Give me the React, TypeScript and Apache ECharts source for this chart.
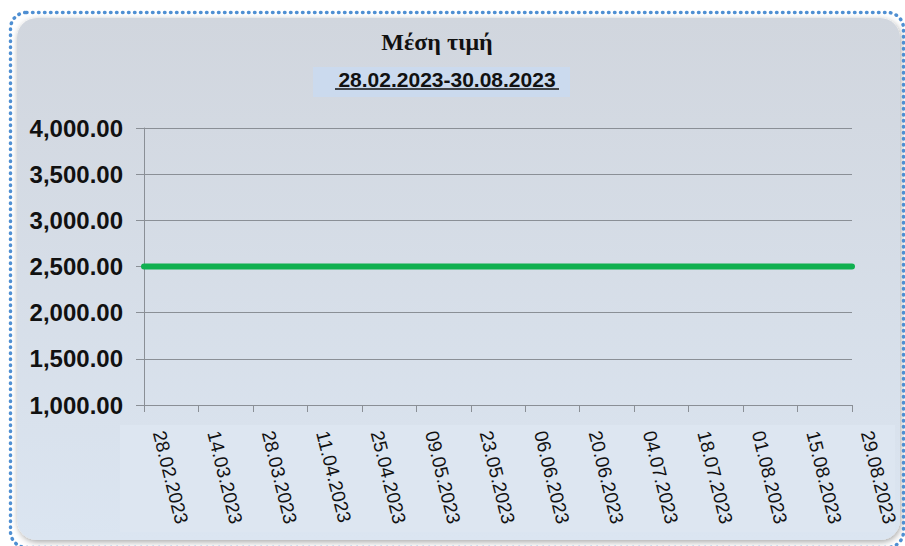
import React, { useEffect, useRef } from "react";
import * as echarts from "echarts";

const titleText = "Μέση τιμή";
const subtitleText = "28.02.2023-30.08.2023";
const dates = [
  "28.02.2023", "14.03.2023", "28.03.2023", "11.04.2023", "25.04.2023",
  "09.05.2023", "23.05.2023", "06.06.2023", "20.06.2023", "04.07.2023",
  "18.07.2023", "01.08.2023", "15.08.2023", "29.08.2023",
];
const prices = [2500, 2500, 2500, 2500, 2500, 2500, 2500, 2500, 2500, 2500, 2500, 2500, 2500, 2500];
const yMin = 1000;
const yMax = 4000;
const yStep = 500;

export default function App() {
  const ref = useRef<HTMLDivElement>(null);
  useEffect(() => {
    if (!ref.current) return;
    const chart = echarts.init(ref.current, null, { renderer: "svg" });
    chart.setOption({
      animation: false,
      backgroundColor: "#ffffff",
      graphic: [
        {
          type: "rect", z: -20, silent: true,
          shape: { x: 17, y: 18, width: 883, height: 522, r: 20 },
          style: {
            fill: new echarts.graphic.LinearGradient(0, 0, 0, 1, [
              { offset: 0, color: "#d1d6de" },
              { offset: 1, color: "#dbe5f1" },
            ]),
            shadowBlur: 6, shadowColor: "rgba(0,0,0,0.35)", shadowOffsetX: 1, shadowOffsetY: 2,
          },
        },
        {
          type: "rect", z: -19, silent: true,
          shape: { x: 120, y: 425, width: 775, height: 107 },
          style: { fill: "#dde6f1" },
        },
        {
          type: "rect", z: -18, silent: true,
          shape: { x: 10.5, y: 12.5, width: 893, height: 535, r: 16 },
          style: { fill: "none", stroke: "#4f8fd2", lineWidth: 3.5, lineDash: [0.5, 5.5], lineCap: "round" },
        },
        {
          type: "rect", z: -17, silent: true,
          shape: { x: 313, y: 67, width: 257, height: 30 },
          style: { fill: "#cbdaee" },
        },
        {
          type: "text", z: 5,
          style: {
            text: titleText, x: 437, y: 42, fill: "#111",
            font: "bold 24px 'Liberation Serif', 'Times New Roman', serif",
            textAlign: "center", textVerticalAlign: "middle", align: "center", verticalAlign: "middle",
          },
        },
        {
          type: "text", z: 5,
          style: {
            text: subtitleText, x: 447, y: 79, fill: "#111",
            font: "bold 21px 'Liberation Sans', Arial, sans-serif",
            textAlign: "center", textVerticalAlign: "middle", align: "center", verticalAlign: "middle",
          },
        },
        {
          type: "line", z: 5,
          shape: { x1: 335, y1: 89, x2: 559, y2: 89 },
          style: { stroke: "#111", lineWidth: 1.5 },
        },
      ],
      grid: { left: 144, right: 53, top: 128, bottom: 141, containLabel: false },
      xAxis: {
        type: "category",
        data: dates,
        boundaryGap: false,
        axisLine: { show: true, lineStyle: { color: "#8a8f96", width: 1 } },
        axisTick: { show: true, length: 7, lineStyle: { color: "#8a8f96" } },
        axisLabel: {
          rotate: -76,
          interval: 0,
          margin: 30,
          align: "left",
          verticalAlign: "bottom",
          padding: [0, 0, 6, 0],
          color: "#111",
          fontSize: 19,
          fontFamily: "'Liberation Sans', Arial, sans-serif",
        },
        splitLine: { show: false },
      },
      yAxis: {
        type: "value",
        min: yMin,
        max: yMax,
        interval: yStep,
        axisLine: { show: true, lineStyle: { color: "#8a8f96", width: 1 } },
        axisTick: { show: true, length: 8, lineStyle: { color: "#8a8f96" } },
        axisLabel: {
          margin: 21,
          color: "#111",
          fontSize: 24,
          fontWeight: "bold",
          fontFamily: "'Liberation Sans', Arial, sans-serif",
          formatter: (v: number) =>
            v.toLocaleString("en-US", { minimumFractionDigits: 2, maximumFractionDigits: 2 }),
        },
        splitLine: { show: true, lineStyle: { color: "#8a8f96", width: 1 } },
      },
      series: [
        {
          type: "line",
          data: prices,
          symbol: "none",
          lineStyle: { color: "#10b050", width: 6, cap: "round" },
        },
      ],
    });
    return () => chart.dispose();
  }, []);
  return (
    <div
      ref={ref}
      style={{ position: "absolute", left: 0, top: 0, width: 905, height: 546 }}
    />
  );
}
